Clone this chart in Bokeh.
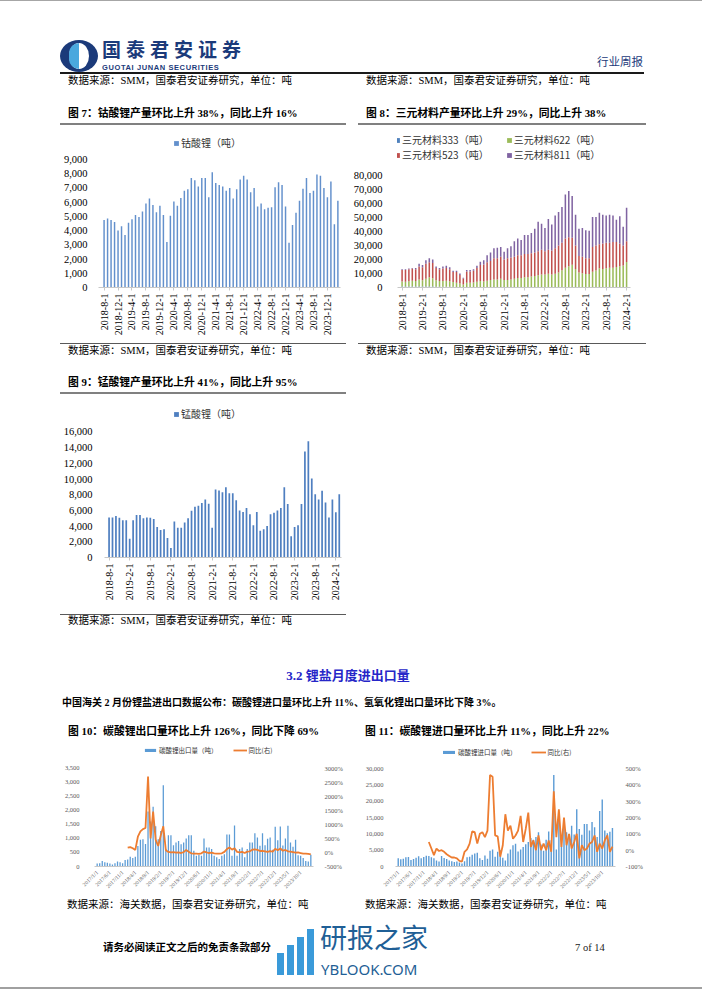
import math
from bokeh.plotting import figure
from bokeh.models import (Div, Spacer, Legend, LegendItem, FixedTicker, LinearAxis,
                          Range1d, NumeralTickFormatter, PrintfTickFormatter, ColumnDataSource)
from bokeh.layouts import column, row
from bokeh.embed import file_html
from bokeh.resources import INLINE

nan = float("nan")

# ---------------- DATA ----------------
# Fig 7: lithium cobalt oxide monthly output (t), 2018-8 onward
lco_ticks = ["2018-8-1", "2018-12-1", "2019-4-1", "2019-8-1", "2019-12-1", "2020-4-1",
             "2020-8-1", "2020-12-1", "2021-4-1", "2021-8-1", "2021-12-1", "2022-4-1",
             "2022-8-1", "2022-12-1", "2023-4-1", "2023-8-1", "2023-12-1"]
lco_output = [4750, 4850, 4750, 4600, 4000, 4300, 3700, 4550, 4800, 5100,
              4950, 5350, 5900, 6250, 5800, 5300, 5750, 5100, 3200, 5050,
              6050, 5750, 6300, 6800, 6900, 7700, 7550, 7100, 7700, 7700,
              6350, 8100, 7350, 7200, 7100, 6800, 7000, 6250, 6900, 7600,
              7850, 7600, 6700, 7000, 5700, 5900, 5500, 5600, 5650, 7050,
              7400, 7200, 5700, 3150, 4400, 5250, 6100, 6950, 7700, 6650,
              6800, 7950, 7850, 7000, 6350, 7450, 4450, 6100]

# Fig 8: ternary cathode monthly output (t), stacked, 2018-8 .. 2024-2
ncm_ticks = ["2018-8-1", "2019-2-1", "2019-8-1", "2020-2-1", "2020-8-1", "2021-2-1",
             "2021-8-1", "2022-2-1", "2022-8-1", "2023-2-1", "2023-8-1", "2024-2-1"]
ncm333 = [800, 700, 700, 800, 700, 800, 700, 800, 800, 700, 600, 600,
          600, 600, 500, 500, 400, 400, 300, 400, 400, 400, 400, 400,
          300, 300, 300, 300, 300, 300, 300, 300, 300, 300, 300, 300,
          300, 300, 300, 300, 300, 300, 300, 300, 300, 300, 300, 300,
          200, 200, 200, 200, 200, 200, 200, 200, 200, 200, 200, 200,
          200, 200, 200, 200, 200, 200, 200]
ncm622 = [3500, 3500, 3800, 4000, 4000, 5000, 4500, 5500, 6500, 6000, 4500, 4000,
          4000, 4200, 4000, 3500, 3000, 2500, 1800, 3000, 3000, 3200, 3800, 4200,
          4000, 4500, 5000, 5500, 5500, 6000, 5000, 5000, 5500, 6000, 6500, 6500,
          7000, 7000, 7500, 8000, 8500, 9000, 9000, 9500, 9000, 9500, 10500, 12000,
          14000, 15000, 16000, 13000, 10500, 10000, 9500, 9500, 11000, 12000, 13500, 13000,
          13500, 14000, 14000, 14500, 15000, 15500, 18000]
ncm523 = [8200, 8300, 8500, 8700, 8300, 9200, 9300, 10700, 10700, 10800, 8900, 8400,
          8900, 9200, 8500, 7000, 7600, 6100, 4400, 8100, 8100, 8400, 9800, 11400,
          12200, 13200, 13700, 15200, 15200, 15700, 14700, 15700, 15700, 15700, 16200, 16200,
          16700, 16700, 16700, 16700, 17200, 17700, 16700, 17200, 17200, 18200, 19200, 19700,
          20800, 20800, 19300, 16800, 11800, 11800, 11300, 11300, 17800, 17800, 17300, 18300,
          18300, 17800, 18300, 17800, 16300, 14300, 14800]
ncm811 = [500, 500, 500, 500, 1000, 2000, 1500, 2500, 3000, 2500, 1000, 1000,
          1500, 1500, 1500, 1000, 1000, 1000, 500, 1000, 1000, 1000, 1500, 2500,
          3000, 5000, 6000, 7000, 7500, 7000, 5500, 7000, 8000, 11000, 12000, 11000,
          13500, 13500, 14500, 17000, 21000, 18500, 16500, 22000, 18500, 23500, 24000, 25500,
          31500, 33000, 30000, 22000, 19500, 20500, 20000, 19500, 21500, 20500, 22500, 20500,
          19500, 20000, 19000, 16000, 19500, 13500, 24000]

# Fig 9: lithium manganate monthly output (t)
lmo_ticks = ncm_ticks
lmo_output = [5100, 5100, 5300, 5050, 4750, 4750, 2400, 4750, 5400, 5400,
              5000, 5100, 5050, 4900, 3900, 3500, 3600, 2500, 1200, 4600,
              3800, 3800, 4450, 5000, 5950, 6450, 6600, 6950, 7400, 6850,
              3800, 8650, 8550, 8300, 8950, 8200, 8200, 7300, 6000, 5800,
              6300, 5500, 4100, 5800, 3400, 3600, 4000, 5500, 5700, 6000,
              6300, 8950, 6800, 2700, 3900, 4100, 6800, 13500, 14800, 10050,
              8050, 7400, 8500, 7000, 5100, 7400, 5750, 8050]

# Fig 10 / 11: customs data, 2017/1 .. 2024/2 (2020/1 merged into 2020/2)
trade_ticks = ["2017/1/1", "2017/6/1", "2017/11/1", "2018/4/1", "2018/9/1", "2019/2/1",
               "2019/7/1", "2019/12/1", "2020/6/1", "2020/11/1", "2021/4/1", "2021/9/1",
               "2022/2/1", "2022/7/1", "2022/12/1", "2023/5/1", "2023/10/1"]
exp_volume = [110, 120, 200, 150, 130, 110, 70, 120, 180, 150, 120, 230,
              250, 350, 300, 350, 730, 950, 970, 800, 1960, 1600, 2130, 1430,
              970, 1260, 2890, 620, 1110, 1110, 760, 850, 910, 790, 850, 1000,
              1110, 1110, 560, 385, 410, 385, 1000, 680, 680, 620, 385,
              330, 270, 385, 440, 1140, 1140, 385, 1460, 385, 620, 680, 330,
              620, 850, 850, 1180, 1030, 735, 1180, 760, 990, 1030, 600, 1410,
              930, 1420, 750, 1000, 1450, 850, 700, 950, 400, 380, 300, 200,
              180, 420]
exp_yoy = [nan, nan, nan, nan, nan, nan, nan, nan, nan, nan, nan, nan,
           170, 190, 150, 90, 560, 750, 830, 870, 2700, 500, 1450, 450,
           230, 600, 930, 80, 20, 0, 10, -10, 0, -20, 10, 90,
           20, -30, -40, -40, -50, -30, 30, 0, -20, -10, -30,
           -40, -40, -30, 20, 120, 180, 100, 150, 20, 0, 20, -20,
           30, 40, 100, 110, 90, 50, 60, 40, 20, 50, 30, 130,
           80, 140, 60, 90, 40, 30, 10, -10, 0, -20, -40, -40,
           -50, -69]
imp_volume = [2500, 2200, 2400, 2800, 2900, 2000, 2300, 2700, 3100, 2500, 2900, 3300,
              3200, 2800, 2500, 1800, 1500, 3200, 2600, 2300, 1800, 1600, 1400, 1500,
              1200, 900, 1600, 2800, 3000, 3600, 4000, 4200, 2500, 2000, 3400, 2400,
              4800, 5200, 3000, 4500, 5000, 2700, 1800, 4000, 5200, 6500, 7000,
              4600, 5200, 6000, 6800, 7500, 8700, 8200, 9000, 10500, 6700, 4800, 8200,
              10700, 8000, 28000, 5200, 14000, 9500, 12300, 10500, 8500, 12500, 9800, 17500,
              11500, 9700, 13000, 13000, 11000, 13600, 12000, 9000, 17000, 20500, 11000, 10200,
              10600, 11800]
imp_yoy = [nan, nan, nan, nan, nan, nan, nan, nan, nan, nan, nan, nan,
           50, 10, -30, 10, -5, 0, -10, -25, -35, -45, -45, -50,
           -65, -70, -10, 5, 40, 115, 110, 40, 100, 110, 80, 120,
           460, 450, 90, 85, -40, 30, 220, 120, 150, 70, 90,
           120, 210, 50, 130, 230, 20, 60, 0, 90, 0, 40, 0,
           60, -10, 360, 80, 250, 20, 200, 30, 100, 10, 50, 100,
           -50, 30, 0, 10, 40, 50, 90, -10, 40, 10, 60, 90,
           -10, 22]

# ---------------- STYLE ----------------
CJK = "Noto Sans CJK SC"
SERIF = "Liberation Serif"
HF = "'Liberation Serif','Noto Sans CJK SC',serif"


def base_fig(w, h, xr, yr, left, right, top, bottom):
    p = figure(width=w, height=h, output_backend="svg", toolbar_location=None,
               x_range=Range1d(*xr), y_range=Range1d(*yr),
               min_border_left=left, min_border_right=right,
               min_border_top=top, min_border_bottom=bottom, margin=0)
    p.outline_line_color = None
    p.xgrid.visible = False
    p.ygrid.visible = False
    p.background_fill_color = "white"
    p.border_fill_color = "white"
    return p


def style_x(p, labels, step, size, orient, color="#000000", tick=True, standoff=3):
    xa = p.xaxis[0]
    pos = [i * step for i in range(len(labels))]
    xa.ticker = FixedTicker(ticks=pos)
    xa.major_label_overrides = {k: v for k, v in zip(pos, labels)}
    xa.major_label_orientation = orient
    xa.major_label_text_font = SERIF
    xa.major_label_text_font_size = size
    xa.major_label_text_color = color
    xa.axis_line_color = "#c8c8c8"
    xa.major_tick_line_color = "#c8c8c8" if tick else None
    xa.major_tick_out = 3
    xa.major_tick_in = 0
    xa.minor_tick_line_color = None
    xa.major_label_standoff = standoff
    xa.axis_label_standoff = 0


def style_y(ax, ticks, fmt, size, color="#000000", standoff=5):
    ax.ticker = FixedTicker(ticks=ticks)
    ax.formatter = fmt
    ax.axis_line_color = None
    ax.major_tick_line_color = None
    ax.minor_tick_line_color = None
    ax.major_label_text_font = SERIF
    ax.major_label_text_font_size = size
    ax.major_label_text_color = color
    ax.major_label_standoff = standoff


def legend(items, loc, size, gw, gh, lh, spacing=0, orient="horizontal", standoff=2):
    lg = Legend(items=items, location=loc, orientation=orient)
    lg.label_text_font = CJK
    lg.label_text_font_size = size
    lg.label_text_color = "#333333"
    lg.glyph_width = gw
    lg.glyph_height = gh
    lg.label_height = lh
    lg.label_standoff = standoff
    lg.spacing = spacing
    lg.padding = 0
    lg.margin = 0
    lg.border_line_color = None
    lg.background_fill_alpha = 0
    return lg


# ---------------- Fig 7 ----------------
p7 = base_fig(285, 214, (-1.6, 67.75), (0, 11110), 32, 5, 3, 53)
r7 = p7.vbar(x=list(range(len(lco_output))), top=lco_output, width=0.42,
             fill_color="#6390cc", line_color=None)
style_x(p7, lco_ticks, 4, "10px", math.pi / 2)
style_y(p7.yaxis[0], list(range(0, 9001, 1000)), NumeralTickFormatter(format="0,0"), "10.5px")
p7.add_layout(legend([LegendItem(label="钴酸锂（吨）", renderers=[r7])], (75, 137), "10px", 6, 6, 14))

# ---------------- Fig 8 ----------------
src8 = ColumnDataSource(dict(x=list(range(len(ncm333))), s333=ncm333, s622=ncm622,
                             s523=ncm523, s811=ncm811))
p8 = base_fig(295, 214, (-1.35, 67.15), (0, 112980), 42, 15, 3, 50)
rs = p8.vbar_stack(["s333", "s622", "s523", "s811"], x="x", width=0.45, source=src8,
                   fill_color=["#4f81bd", "#9bbb59", "#c0504d", "#8064a2"], line_color=None)
style_x(p8, ncm_ticks, 6, "10px", math.pi / 2)
style_y(p8.yaxis[0], list(range(0, 80001, 10000)), NumeralTickFormatter(format="0,0"), "10.5px", standoff=9)
p8.add_layout(legend([LegendItem(label="三元材料333（吨）", renderers=[rs[0]]),
                      LegendItem(label="三元材料622（吨）", renderers=[rs[1]])],
                     (-3, 140), "10px", 6, 6, 14, spacing=17))
p8.add_layout(legend([LegendItem(label="三元材料523（吨）", renderers=[rs[2]]),
                      LegendItem(label="三元材料811（吨）", renderers=[rs[3]])],
                     (-3, 125), "10px", 6, 6, 14, spacing=17))

# ---------------- Fig 9 ----------------
p9 = base_fig(285, 215, (-1.33, 67.65), (0, 20255), 38, 4, 3, 53)
r9 = p9.vbar(x=list(range(len(lmo_output))), top=lmo_output, width=0.5,
             fill_color="#4f7fc0", line_color=None)
style_x(p9, lmo_ticks, 6, "10px", math.pi / 2)
style_y(p9.yaxis[0], list(range(0, 16001, 2000)), NumeralTickFormatter(format="0,0"), "10.5px", standoff=6)
p9.add_layout(legend([LegendItem(label="锰酸锂（吨）", renderers=[r9])], (69, 136), "10px", 6, 6, 14))

# ---------------- Fig 10 ----------------
p10 = base_fig(285, 156, (-1.05, 85.05), (0, 4305), 34, 30, 3, 30)
p10.extra_y_ranges = {"pct": Range1d(-500, 3805)}
x10 = list(range(len(exp_volume)))
b10 = p10.vbar(x=x10, top=exp_volume, width=0.5, fill_color="#5b9bd5", line_color=None)
l10 = p10.line(x=x10, y=exp_yoy, y_range_name="pct", line_color="#ed7d31", line_width=1.8)
style_x(p10, trade_ticks, 5, "5.5px", math.pi / 4, color="#595959", tick=False, standoff=2)
style_y(p10.yaxis[0], list(range(0, 3501, 500)), NumeralTickFormatter(format="0,0"), "6.5px",
        color="#595959", standoff=9)
ax10 = LinearAxis(y_range_name="pct")
style_y(ax10, list(range(-500, 3001, 500)), PrintfTickFormatter(format="%d%%"), "6.5px",
        color="#595959", standoff=5)
p10.add_layout(ax10, "right")
p10.add_layout(legend([LegendItem(label="碳酸锂出口量（吨）", renderers=[b10]),
                       LegendItem(label="同比(右)", renderers=[l10])],
                      (49, 111), "6.5px", 14, 4, 8, spacing=15))

# ---------------- Fig 11 ----------------
p11 = base_fig(295, 156, (-1.07, 85.2), (0, 37041), 45, 29, 3, 32)
p11.extra_y_ranges = {"pct": Range1d(-100, 640.8)}
x11 = list(range(len(imp_volume)))
b11 = p11.vbar(x=x11, top=imp_volume, width=0.55, fill_color="#5b9bd5", line_color=None)
l11 = p11.line(x=x11, y=imp_yoy, y_range_name="pct", line_color="#ed7d31", line_width=1.8)
style_x(p11, trade_ticks, 5, "5.5px", math.pi / 4, color="#595959", tick=False, standoff=2)
style_y(p11.yaxis[0], list(range(0, 30001, 5000)), NumeralTickFormatter(format="0,0"), "6.5px",
        color="#595959", standoff=6)
ax11 = LinearAxis(y_range_name="pct")
style_y(ax11, list(range(-100, 501, 100)), PrintfTickFormatter(format="%d%%"), "6.5px",
        color="#595959", standoff=4)
p11.add_layout(ax11, "right")
p11.add_layout(legend([LegendItem(label="碳酸锂进口量（吨）", renderers=[b11]),
                       LegendItem(label="同比(右)", renderers=[l11])],
                      (46, 109), "6.5px", 15, 4, 8, spacing=14))


# ---------------- TEXT BANDS ----------------
W = 702


def t(x, y, s, size, bold=False, color="#000000", family=HF, extra=""):
    w = "bold" if bold else "normal"
    return (f'<div style="position:absolute;left:{x}px;top:{y}px;white-space:nowrap;'
            f'font-family:{family};font-size:{size}px;font-weight:{w};color:{color};'
            f'line-height:1.2;{extra}">{s}</div>')


def rc(x, y, w, h, color, extra=""):
    return (f'<div style="position:absolute;left:{x}px;top:{y}px;width:{w}px;height:{h}px;'
            f'background:{color};{extra}"></div>')


def band(h, parts):
    html = (f'<div style="position:relative;width:{W}px;height:{h}px;overflow:hidden;">'
            + "".join(parts) + '</div>')
    return Div(text=html, width=W, height=h, margin=0)


NAVY = "#1b3a7a"
cap_smm = "数据来源：SMM，国泰君安证券研究，单位：吨"
cap_hg = "数据来源：海关数据，国泰君安证券研究，单位：吨"

bandA = band(74, [
    rc(0, 0, W, 1, "#a6a6a6"),
    rc(60, 40, 38, 32, NAVY, "border-radius:50%;"),
    rc(69, 43, 20, 26, "#ffffff", "border-radius:50%;"),
    rc(69, 43, 10, 26, "#4aa8de", "border-radius:13px 0 0 13px;"),
    t(102, 39, "国泰君安证券", 19, True, NAVY, "'Noto Sans CJK SC',sans-serif",
      "letter-spacing:5px;line-height:1;"),
    t(102, 64, "GUOTAI JUNAN SECURITIES", 7.5, True, NAVY, "'Liberation Sans',sans-serif",
      "letter-spacing:0.6px;line-height:1;"),
    t(597, 56, "行业周报", 11.5, False, NAVY),
    rc(60, 72, 584, 2, "#1a1a1a"),
])
bandB = band(18, [t(68, 1, cap_smm, 10.5), t(366, 1, cap_smm, 10.5)])
bandC = band(34, [
    t(68, 15, "图 7：钴酸锂产量环比上升 38%，同比上升 16%", 10.8, True),
    t(366, 15, "图 8：三元材料产量环比上升 29%，同比上升 38%", 10.8, True),
    rc(60, 31, 286, 2, "#808080"), rc(358, 31, 288, 2, "#808080"),
])
bandE = band(20, [rc(60, 3, 286, 1, "#595959"), rc(358, 3, 288, 1, "#595959"),
                  t(68, 5, cap_smm, 10.5), t(366, 5, cap_smm, 10.5)])
bandF = band(35, [t(68, 16, "图 9：锰酸锂产量环比上升 41%，同比上升 95%", 10.8, True),
                  rc(60, 32, 286, 2, "#808080")])
bandH = band(20, [rc(60, 4, 286, 1, "#595959"), t(68, 5, cap_smm, 10.5)])
bandI = band(86, [
    t(0, 38, "3.2 锂盐月度进出口量", 13, True, "#2626c8", extra=f"width:{W - 6}px;text-align:center;"),
    t(62, 67, "中国海关 2 月份锂盐进出口数据公布：碳酸锂进口量环比上升 11%、氢氧化锂出口量环比下降 3%。", 10, True),
])
bandJ = band(26, [t(68, 9, "图 10：碳酸锂出口量环比上升 126%，同比下降 69%", 10.8, True),
                  t(365, 9, "图 11：碳酸锂进口量环比上升 11%，同比上升 22%", 10.8, True)])
bandL = band(17, [t(67, 1, cap_hg, 10.5), t(365, 1, cap_hg, 10.5)])
bandM = band(76, [
    t(103, 27, "请务必阅读正文之后的免责条款部分", 10.5, True),
    rc(277, 38, 7, 22, "#3a9ad9"), rc(287, 30, 7, 30, "#3a9ad9"),
    rc(297, 22, 7, 38, "#3a9ad9"), rc(307, 14, 7, 46, "#3a9ad9"),
    t(320, 8, "研报之家", 27, False, "#1f5f96", "'Noto Sans CJK SC',sans-serif", "line-height:1;"),
    t(321, 47, "YBLOOK.COM", 15, False, "#1f5f96", "'Noto Sans',sans-serif", "line-height:1;"),
    t(575, 27, "7 of 14", 10.5, False, "#222222"),
    rc(0, 72, W, 2, "#a0a0a0"),
])

rowD = row(Spacer(width=60, height=214, margin=0), p7, Spacer(width=5, height=214, margin=0), p8,
           spacing=0, margin=0)
rowG = row(Spacer(width=60, height=215, margin=0), p9, spacing=0, margin=0)
rowK = row(Spacer(width=60, height=156, margin=0), p10, Spacer(width=5, height=156, margin=0), p11,
           spacing=0, margin=0)

page = column(bandA, bandB, bandC, rowD, bandE, bandF, rowG, bandH, bandI, bandJ, rowK, bandL, bandM,
              spacing=0, margin=0)

open("out.html", "w").write(file_html(page, INLINE))
